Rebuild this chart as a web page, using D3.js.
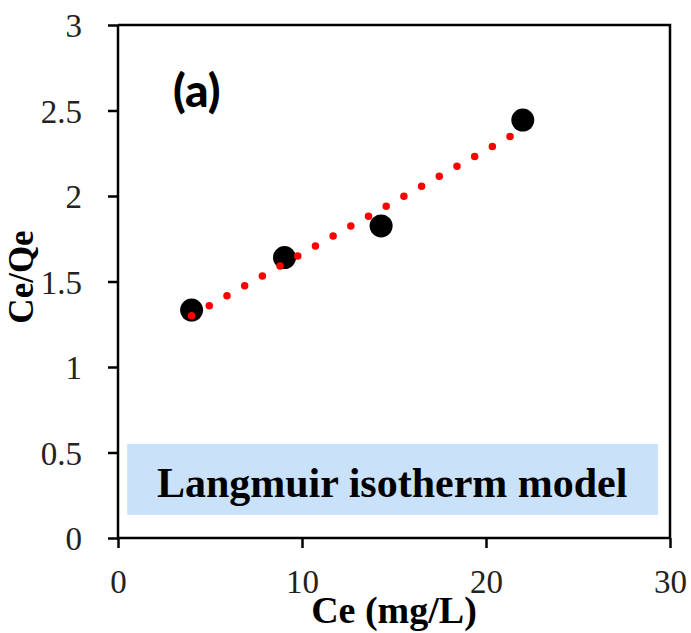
<!DOCTYPE html>
<html lang="en">
<head>
<meta charset="UTF-8">
<title>Langmuir isotherm</title>
<style>
  body { margin: 0; background: #fff; }
  svg { font-family: "Liberation Serif", "Times New Roman", serif; }
</style>
</head>
<body>
<div id="chart"></div>
<script src="https://d3js.org/d3.v7.min.js"></script>
<script>
// observed points
const ce = [4, 9.05, 14.3, 22];
const ceQe = [1.333, 1.64, 1.825, 2.444];
// linear trendline end points
const trendX = [4, 22];
const trendY = [1.30, 2.39];
const xTicks = [0, 10, 20, 30];
const yTicks = [0, 0.5, 1, 1.5, 2, 2.5, 3];

const W = 691, H = 633;
const margin = { top: 25, right: 21, bottom: 95, left: 118 };
const width = W - margin.left - margin.right,
      height = H - margin.top - margin.bottom;

const svg = d3.select("#chart").append("svg")
    .attr("width", W).attr("height", H);
const g = svg.append("g")
    .attr("transform", `translate(${margin.left},${margin.top})`);

const x = d3.scaleLinear().domain([0, 30]).range([0, width]);
const y = d3.scaleLinear().domain([0, 3]).range([height, 0]);

// label box
g.append("rect")
    .attr("x", x(0.5)).attr("y", y(0.55))
    .attr("width", x(29.35) - x(0.5)).attr("height", y(0.135) - y(0.55))
    .attr("fill", "#c9e2f9");
g.append("text")
    .attr("x", x(14.9)).attr("y", y(0.24))
    .attr("text-anchor", "middle")
    .attr("font-family", "Liberation Serif, serif")
    .attr("font-size", 42).attr("font-weight", "bold")
    .text("Langmuir isotherm model");

// frame (top and right)
g.append("path")
    .attr("d", `M0,0H${width}V${height}`)
    .attr("fill", "none").attr("stroke", "#000").attr("stroke-width", 2.5);

const xAxis = g.append("g")
    .attr("transform", `translate(0,${height})`)
    .call(d3.axisBottom(x).tickValues(xTicks).tickSize(10).tickPadding(22));
const yAxis = g.append("g")
    .call(d3.axisLeft(y).tickValues(yTicks).tickSize(10).tickPadding(26)
        .tickFormat(d3.format("")));
[xAxis, yAxis].forEach(a => {
  a.select(".domain").attr("stroke-width", 2.5).attr("d",
      a === xAxis ? `M0,0H${width}` : `M0,${height}V0`);
  a.selectAll(".tick line").attr("stroke-width", 2.5);
  a.selectAll(".tick text")
      .attr("font-family", "Liberation Serif, serif")
      .attr("font-size", 33).attr("fill", "#222");
});
yAxis.selectAll(".tick text").attr("dy", "0.35em");

// points
g.selectAll("circle.pt")
    .data(ce.map((v, i) => [v, ceQe[i]]))
    .enter().append("circle")
    .attr("class", "pt")
    .attr("cx", d => x(d[0])).attr("cy", d => y(d[1]))
    .attr("r", 11.5).attr("fill", "#000");

// dotted red trendline
g.append("path")
    .datum(trendX.map((v, i) => [v, trendY[i]]))
    .attr("d", d3.line().x(d => x(d[0])).y(d => y(d[1])))
    .attr("fill", "none").attr("stroke", "#ff0000")
    .attr("stroke-width", 7.5).attr("stroke-linecap", "round")
    .attr("stroke-dasharray", "0 20.3");

// panel label
g.append("text")
    .attr("x", 55).attr("y", 82)
    .attr("font-family", "Lato, 'Open Sans', sans-serif")
    .attr("font-size", 46).attr("font-weight", 900)
    .text("(a)");

// axis titles
svg.append("text")
    .attr("x", 394).attr("y", 623)
    .attr("text-anchor", "middle")
    .attr("font-family", "Liberation Serif, serif")
    .attr("font-size", 38).attr("font-weight", "bold")
    .text("Ce (mg/L)");
svg.append("text")
    .attr("transform", "translate(33,277) rotate(-90)")
    .attr("text-anchor", "middle")
    .attr("font-family", "Liberation Serif, serif")
    .attr("font-size", 35).attr("font-weight", "bold")
    .text("Ce/Qe");
</script>
</body>
</html>
